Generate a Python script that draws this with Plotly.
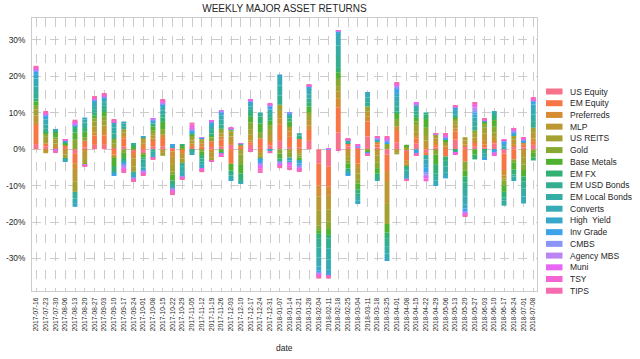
import math
import pandas as pd
import plotly.graph_objects as go

# ---------------- data (weekly returns, %) ----------------
dates = [d.strftime("%Y-%m-%d") for d in pd.date_range("2017-07-16", "2018-07-08", freq="7D")]

series_names = ["US Equity", "EM Equity", "Preferreds", "MLP", "US REITS", "Gold",
                "Base Metals", "EM FX", "EM USD Bonds", "EM Local Bonds", "Converts",
                "High  Yield", "Inv Grade", "CMBS", "Agency MBS", "Muni", "TSY", "TIPS"]

us_equity = [1.4, 0.8, 0.3, 0.3, -1.1, 0.5, 1.2, 1.2, 0.3, 0.7, -0.5, -1.2, 0.7,
             0.8, 0.5, -0.3, 0.4, 0.3, 0.6, 0.8, 1.2, 0.3, 1.2, 0.3, 1.0, 2.3,
             0.6, 0.4, 2.3, -3.9, -4.8, 4.6, 0.8, 0.4, 3.5, 0.5, -1.5, 1.8, -0.5,
             1.6, -0.8, 0.5, 0.3, 2.6, 0.6, 0.8, 0.5, 1.6, -1.2, 0.6, 0.5, 1.2]
em_equity = [5.4, 0.8, 0.3, 0.6, -2.8, 1.8, 2.6, 2.6, -1.4, 2.3, -0.8, 0.6, 1.8,
             2.3, -0.6, -0.4, 0.5, 0.5, 1.6, 1.9, -4.0, 0.4, 0.6, 2.7, 1.1, 4.4,
             2.8, 2.6, 3.0, -6.0, -5.5, 6.9, 0.9, -3.9, 4.1, 0.8, -4.5, 3.2, -2.5,
             1.4, -0.8, 0.6, -2.0, 2.3, -3.4, 1.0, 0.8, 0.6, -4.5, -2.8, 0.7, 0.8]
preferreds = [0.4, -0.3, 0.2, 0.2, -1.5, -0.5, 0.8, 1.2, -0.6, 0.6, -1.2, 0.9, 0.4,
              1.0, -1.5, -0.6, 0.6, 0.7, -0.8, 0.8, 0.8, 0.3, 0.6, -0.8, 0.3, 1.8,
              1.5, -0.5, 1.2, -3.0, -2.5, 2.5, -0.4, -1.0, 1.3, 0.7, -3.0, 1.3, -1.0,
              0.6, 0.6, 0.9, 0.5, 0.8, 0.7, 0.4, 1.2, 0.3, -1.5, 0.8, 0.6, 0.9]
mlp = [2.0, -0.8, 0.8, -1.4, -3.5, -2.2, 1.6, 1.5, -0.3, 1.0, -2.2, 1.0, 0.8,
       -1.0, -2.2, -1.3, 0.9, 0.8, -1.4, 0.8, 1.5, 0.3, 1.6, -1.0, 1.5, 2.0,
       1.2, -0.6, 1.5, -4.0, -3.8, 1.8, -1.5, -1.8, 1.4, -1.8, -6.0, -0.8, -0.8,
       1.2, 1.8, 1.0, 0.6, 1.0, 1.1, 1.0, 1.8, 1.1, -0.8, 1.3, -2.2, 1.6]
us_reits = [1.7, 1.8, 1.0, -1.1, -2.8, -1.4, 1.4, 1.3, 1.2, 0.9, -1.5, 0.8, 0.7,
            -0.8, -1.8, -1.2, 0.8, 0.6, -1.0, 0.7, 1.3, -1.5, 1.5, -0.7, 1.4, 1.7,
            -1.0, -0.6, 1.4, -4.1, -3.3, 1.5, -1.3, -1.7, 1.4, -1.8, -5.5, -0.6, 0.4,
            1.6, 1.5, 0.9, 0.4, 1.0, 0.9, 1.2, 1.6, 1.0, -0.6, 1.1, -2.0, 1.4]
gold = [1.0, 1.0, 0.6, 0.2, 2.6, 1.0, 0.8, 1.2, 1.3, -1.0, 0.3, -0.5, 0.8,
        1.4, -0.9, 0.4, 0.5, -0.6, 1.0, 0.6, 0.6, -2.6, 1.8, 1.5, 1.3, -1.2,
        -1.3, -0.6, 0.8, -1.2, -2.0, 2.0, -0.8, -1.0, -0.5, -1.6, 1.5, 2.0, 0.4,
        1.2, 2.0, -1.5, 0.4, 0.6, -2.5, 0.8, 1.0, 1.6, -1.3, -0.8, -1.5, -1.0]
base_metals = [1.2, 0.1, 1.5, 0.4, 2.0, 1.5, 0.8, 1.2, -2.3, -1.4, 0.5, -0.5, 1.0,
               2.0, -1.6, 0.5, 0.4, -1.0, 0.6, -0.8, -1.8, -2.6, 1.6, 2.5, 1.2, -1.3,
               1.5, -0.8, 1.5, -1.0, -1.6, 1.8, -1.3, -1.6, -0.4, -1.4, -2.4, 1.5, 0.4,
               1.0, 2.4, -2.6, 0.5, 0.5, -1.6, -1.5, 0.8, 1.8, -1.8, -2.0, -1.8, -1.3]
em_fx = [0.8, 0.3, 0.3, 0.3, 1.7, 1.0, 0.8, 0.8, -1.8, -1.0, 0.4, -0.6, 0.8,
         1.2, -1.0, 0.3, -0.3, -0.9, 0.5, -0.5, -0.9, -1.8, 1.3, 2.0, 0.8, -0.9,
         0.8, 0.3, 1.2, -1.2, -1.0, 1.2, -0.9, -1.2, 0.0, -1.2, -1.5, 0.5, -0.2,
         0.9, 1.2, -2.5, -1.2, -0.4, -1.6, -1.3, -0.4, 1.3, -1.5, -1.3, -1.3, -0.8]
em_usd_bonds = [1.5, 0.8, 0.2, -0.3, -0.6, 1.0, 0.8, 0.9, 1.5, 0.8, 0.4, -1.0, -0.7,
                0.9, -0.4, -1.0, -0.4, -0.8, 1.0, 1.2, -0.5, -0.3, 0.8, 0.6, 0.8, 2.5,
                0.7, 0.5, 1.0, -2.5, -2.8, 3.0, 0.4, -0.9, 1.2, -0.5, -2.2, 1.4, -0.8,
                0.9, 0.6, -1.0, -1.5, -0.6, -1.8, 1.0, -0.7, 0.4, -0.9, -0.6, -2.0, 1.8]
em_local_bonds = [1.8, 1.2, 0.1, -0.3, -1.2, 0.5, 0.8, 1.0, 1.6, 0.7, -0.6, -1.2, -0.9,
                  1.0, -0.4, -1.2, -0.5, -0.8, 0.7, 1.3, -0.6, -0.3, 0.7, 0.5, 0.8, 2.8,
                  0.5, 0.6, 1.1, -2.8, -3.0, 3.2, 0.3, -0.9, 1.3, -0.4, -2.0, 1.5, -1.0,
                  0.9, -1.2, -1.0, -1.6, 0.8, -2.0, 1.5, -0.8, 0.4, -1.4, -0.7, -2.2, 1.8]
converts = [2.2, 1.4, 0.1, -0.4, -1.3, 0.8, 1.1, 0.8, 1.3, 0.6, -0.6, -0.8, -0.8,
            1.0, -0.3, -1.0, -0.4, -0.7, 0.5, 1.2, -0.5, -0.3, 0.6, -0.3, 0.7, 2.5,
            -0.8, -0.3, 1.5, -2.5, -2.6, 3.0, -0.5, -0.7, 1.2, 0.3, -1.6, 1.2, -0.9,
            0.8, -1.3, -1.0, -1.2, 0.9, -2.2, 1.0, -0.6, 0.3, 0.8, -0.5, -1.9, 1.8]
high_yield = [1.2, 0.6, 0.1, 0.2, -1.0, 0.6, 0.5, 0.4, -0.5, -0.4, -0.4, 0.1, 0.6,
              0.5, 0.4, -0.5, 0.6, -0.4, 0.5, 0.6, -0.4, 0.2, 0.4, -0.4, -0.5, 0.5,
              -0.6, -0.5, 0.4, -1.0, -1.4, 0.5, -0.3, -0.3, 0.2, 0.3, -0.3, 1.0, -0.3,
              -0.6, -1.0, -0.5, -0.5, 0.6, -1.2, 0.8, 0.3, -0.4, 0.8, 0.5, 0.4, 1.0]
inv_grade = [0.6, 0.4, -0.1, 0.1, 0.3, -0.1, 0.3, 0.2, -0.3, -0.5, 0.0, -0.1, 0.4,
             0.3, 0.3, 0.0, 0.5, 0.2, 0.3, 0.3, 0.1, 0.1, 0.3, -0.6, 0.8, 0.0,
             0.3, -0.6, 0.2, -0.6, -0.3, 0.2, -0.2, 0.2, -0.2, 0.2, 0.5, 1.3, -0.1,
             -0.5, -1.2, 0.1, 0.4, 0.3, -0.7, 0.6, -0.2, -0.4, 0.5, 0.4, 0.3, 0.8]
cmbs = [0.4, 0.2, -0.1, 0.1, 0.2, -0.1, 0.1, 0.1, 0.1, -0.4, -0.2, -0.2, 0.2,
        0.2, -0.3, -0.1, 0.3, 0.1, 0.2, 0.2, 0.1, 0.0, 0.2, -0.5, 0.3, -0.4,
        0.2, -0.4, 0.1, -0.3, 0.1, 0.2, 0.1, 0.2, -0.1, 0.2, 0.4, 0.4, -0.1,
        0.2, -0.7, 0.1, 0.2, 0.1, -0.4, 0.6, 0.0, -0.2, 0.2, 0.3, 0.2, 0.2]
agency_mbs = [0.3, 0.2, -0.1, 0.1, 0.2, -0.1, 0.1, 0.1, 0.1, -0.5, -0.2, -0.2, 0.2,
              0.3, -0.4, -0.1, 0.3, 0.1, 0.2, 0.2, 0.1, 0.0, 0.2, -0.4, 0.2, -0.4,
              -0.3, -0.5, 0.1, -0.2, 0.1, 0.1, 0.1, 0.2, -0.1, 0.2, 0.3, 0.3, 0.0,
              0.2, -0.6, 0.1, 0.2, 0.1, -0.3, 0.7, 0.0, -0.2, 0.1, 0.2, 0.1, 0.2]
muni = [0.3, 0.2, -0.2, 0.1, 0.3, -0.1, 0.2, 0.2, 0.1, -0.5, -0.2, -0.3, 0.1,
        0.3, -0.3, -0.1, 0.4, -0.3, 0.1, -0.3, 0.1, 0.1, 0.2, -0.5, 0.2, -0.2,
        -0.5, -0.3, 0.1, -0.3, 0.1, 0.1, 0.1, 0.1, -0.1, 0.1, 0.3, 0.3, 0.0,
        0.2, -0.5, 0.0, 0.3, -0.2, -0.3, 0.7, 0.1, -0.2, 0.1, 0.2, 0.1, 0.2]
tsy = [0.3, 0.3, -0.2, 0.1, 0.4, -0.1, 0.3, 0.2, 0.3, -0.4, -0.2, -0.4, -0.2,
       0.2, -0.4, -0.2, 0.5, -0.4, -0.1, -0.3, 0.1, 0.0, -0.3, -0.7, 0.3, -0.2,
       -0.6, -0.2, 0.2, -0.4, -0.4, 0.1, 0.1, 0.1, -0.1, 0.1, 0.3, 0.3, -0.1,
       -0.3, -0.7, 0.1, 0.3, -0.4, -0.3, 0.5, 0.1, -0.3, 0.1, 0.2, 0.2, 0.3]
tips = [0.4, 0.3, -0.2, 0.1, 0.4, -0.1, 0.3, 0.3, 0.3, -0.3, -0.2, -0.3, -0.2,
        0.2, -0.5, -0.2, 0.6, -0.4, -0.1, -0.2, 0.0, 0.0, -0.2, -0.6, -0.6, -0.6,
        -0.6, -0.1, 0.3, -0.5, -0.5, -0.5, 0.2, 0.0, -0.2, 0.1, 0.2, 0.3, -0.3,
        -0.3, 0.0, 0.1, 0.3, 0.4, -0.3, 0.3, 0.1, 0.0, 0.0, 0.2, 0.2, 0.2]

series_values = [us_equity, em_equity, preferreds, mlp, us_reits, gold, base_metals,
                 em_fx, em_usd_bonds, em_local_bonds, converts, high_yield, inv_grade,
                 cmbs, agency_mbs, muni, tsy, tips]

y_ticks = [-30, -20, -10, 0, 10, 20, 30]
y_tick_labels = [f"{v}%" for v in y_ticks]

# ---------------- husl palette (seaborn) ----------------
_M = [[3.240969941904521, -1.537383177570093, -0.498610760293],
      [-0.96924363628087, 1.87596750150772, 0.041555057407175],
      [0.055630079696993, -0.20397695888897, 1.056971514242878]]
_refU, _refV = 0.19783000664283, 0.46831999493879


def _max_chroma(L, H):
    hrad = math.radians(H)
    sinH, cosH = math.sin(hrad), math.cos(hrad)
    sub1 = (L + 16) ** 3 / 1560896.0
    sub2 = sub1 if sub1 > 0.008856 else L / 903.3
    res = float("inf")
    for m1, m2, m3 in _M:
        top = (0.99915 * m1 + 1.05122 * m2 + 1.14460 * m3) * sub2
        rb = 0.86330 * m3 - 0.17266 * m2
        lb = 0.12949 * m3 - 0.38848 * m1
        bottom = (rb * sinH + lb * cosH) * sub2
        for t in (0.0, 1.0):
            C = L * (top - 1.05122 * t) / (bottom + 0.17266 * sinH * t)
            if 0.0 < C < res:
                res = C
    return res


def _husl_to_rgb(h, s, l):
    C = _max_chroma(l, h) / 100.0 * s
    hr = math.radians(h)
    U, V = math.cos(hr) * C, math.sin(hr) * C
    t = (l + 16.0) / 116.0
    varY = t ** 3 if t ** 3 > 0.0088564516 else (116.0 * t - 16.0) / 903.2962962
    varU = U / (13.0 * l) + _refU
    varV = V / (13.0 * l) + _refV
    Y = varY
    X = -(9.0 * Y * varU) / ((varU - 4.0) * varV - varU * varV)
    Z = (9.0 * Y - 15.0 * varV * Y - varV * X) / (3.0 * varV)
    out = []
    for row in _M:
        c = row[0] * X + row[1] * Y + row[2] * Z
        c = 12.92 * c if c <= 0.0031308 else 1.055 * c ** (1 / 2.4) - 0.055
        out.append(min(1.0, max(0.0, c)))
    return "rgb({:.0f},{:.0f},{:.0f})".format(*[v * 255 for v in out])


n = len(series_names)
colors = []
for i in range(n):
    hue = ((i / n) + 0.01) % 1 * 359
    colors.append(_husl_to_rgb(hue, 0.9 * 99, 0.65 * 99))

# ---------------- figure ----------------
FONT = "Liberation Sans, Arial, sans-serif"
TXT = "#262626"
fig = go.Figure()
for name, vals, col in zip(series_names, series_values, colors):
    fig.add_trace(go.Bar(x=dates, y=vals, name=name, marker_color=col,
                         marker_line_width=0, width=0.5, showlegend=False))

# plot area in pixels: x 32..537, y 18..291
L_, R_, T_, B_ = 32, 537, 18, 291
W_, H_ = R_ - L_, B_ - T_


def px_x(p):
    return (p - L_) / W_


def px_y(p):
    return (B_ - p) / H_


shapes = []
annotations = []
for i, (name, col) in enumerate(zip(series_names, colors)):
    yc = 91.5 + 11.72 * i
    shapes.append(dict(type="rect", xref="paper", yref="paper",
                       x0=px_x(546), x1=px_x(562.5), y0=px_y(yc + 3), y1=px_y(yc - 3),
                       fillcolor=col, line=dict(width=0)))
    annotations.append(dict(xref="paper", yref="paper", x=px_x(568), y=px_y(yc),
                            xanchor="left", yanchor="middle", showarrow=False,
                            text=name.replace("  ", "\u00a0 "),
                            font=dict(family=FONT, size=8.5, color=TXT)))
annotations.append(dict(xref="paper", yref="paper", x=0.5, y=px_y(348),
                        xanchor="center", yanchor="middle", showarrow=False,
                        text="date", font=dict(family=FONT, size=8.5, color=TXT)))

fig.update_layout(
    width=640, height=359,
    margin=dict(l=L_, r=640 - R_, t=T_, b=359 - B_, pad=0, autoexpand=False),
    paper_bgcolor="white", plot_bgcolor="white",
    barmode="relative", bargap=0.5,
    title=dict(text="WEEKLY MAJOR ASSET RETURNS", x=0.5, xref="paper",
               y=1 - 8.5 / 359, yref="container", xanchor="center", yanchor="middle",
               font=dict(family=FONT, size=10, color=TXT)),
    font=dict(family=FONT, color=TXT),
    shapes=shapes, annotations=annotations,
    showlegend=False,
)
fig.update_xaxes(type="category", range=[-0.41, 51.38], tickangle=-90, automargin=False,
                 tickfont=dict(size=6.6, color=TXT, family=FONT),
                 showgrid=True, gridcolor="#cccccc", gridwidth=0.8, griddash="dash",
                 showline=True, linecolor="#cccccc", linewidth=1, mirror=True,
                 ticks="outside", ticklen=3, tickcolor="rgba(0,0,0,0)", zeroline=False)
fig.update_yaxes(range=[-38.9, 36.0], tickvals=y_ticks, ticktext=y_tick_labels,
                 automargin=False,
                 tickfont=dict(size=8.3, color=TXT, family=FONT),
                 showgrid=True, gridcolor="#cccccc", gridwidth=0.8, griddash="dash",
                 showline=True, linecolor="#cccccc", linewidth=1, mirror=True,
                 ticks="outside", ticklen=4, tickcolor="rgba(0,0,0,0)", zeroline=False)

fig.write_html("out.html", config={"displayModeBar": False},
               post_script="document.body.style.margin='0';document.body.style.padding='0';")
